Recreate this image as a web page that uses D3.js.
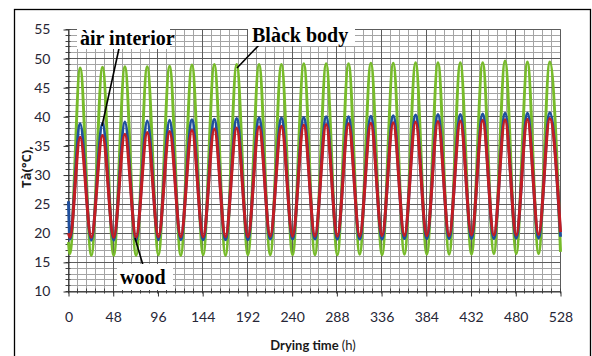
<!DOCTYPE html>
<html>
<head>
<meta charset="utf-8">
<script src="https://cdn.jsdelivr.net/npm/d3@7"></script>
<style>
  body { margin: 0; background: #fff; }
  svg { display: block; }
</style>
</head>
<body>
<svg id="chart" width="592" height="356"></svg>
<script>
// Time (h) of each turning point: start, first minimum, then alternating daily maxima / minima, end.
const timeHours = [0, 1.5,
  12.5, 24.5, 36.5, 48.5, 60.5, 72.5, 84.5, 96.5, 108.5, 120.5,
  132.5, 144.5, 156.5, 168.5, 180.5, 192.5, 204.5, 216.5, 228.5, 240.5,
  252.5, 264.5, 276.5, 288.5, 300.5, 312.5, 324.5, 336.5, 348.5, 360.5,
  372.5, 384.5, 396.5, 408.5, 420.5, 432.5, 444.5, 456.5, 468.5, 480.5,
  492.5, 504.5, 516.5, 528];

// Temperatures (°C) at those times
const blackBody = [18.5, 16.5,
  48.4, 16.2, 48.5, 16.2, 48.6, 16.2, 48.6, 16.3, 48.7, 16.2,
  48.9, 16.3, 49.0, 16.2, 49.0, 16.3, 49.0, 16.3, 49.0, 16.3,
  49.1, 16.3, 49.1, 16.3, 49.1, 16.4, 49.2, 16.3, 49.2, 16.4,
  49.3, 16.4, 49.3, 16.4, 49.3, 16.4, 49.3, 16.5, 49.6, 16.5,
  49.4, 16.5, 49.4, 16.8];

const airInterior = [25.5, 19.0,
  38.8, 18.8, 38.9, 18.8, 39.1, 18.8, 39.3, 18.9, 39.4, 18.9,
  39.5, 18.9, 39.6, 18.9, 39.7, 18.9, 39.8, 19.0, 39.8, 19.0,
  39.9, 19.0, 40.0, 19.0, 40.0, 19.0, 40.1, 19.0, 40.2, 19.1,
  40.3, 19.1, 40.4, 19.1, 40.4, 19.1, 40.5, 19.1, 40.6, 19.2,
  40.6, 19.2, 40.7, 19.4];

const wood = [20.0, 19.3,
  36.5, 19.3, 36.8, 19.3, 37.0, 19.3, 37.3, 19.4, 37.5, 19.4,
  37.7, 19.4, 37.9, 19.4, 38.1, 19.4, 38.3, 19.5, 38.4, 19.5,
  38.6, 19.5, 38.7, 19.5, 38.8, 19.5, 38.9, 19.6, 39.0, 19.6,
  39.1, 19.6, 39.2, 19.6, 39.3, 19.7, 39.4, 19.7, 39.5, 19.7,
  39.6, 19.8, 39.7, 20.2];

const xTicks = [0, 48, 96, 144, 192, 240, 288, 336, 384, 432, 480, 528];
const yTicks = [10, 15, 20, 25, 30, 35, 40, 45, 50, 55];
const xMinorStep = 9.6;
const yMinorStep = 1;

const svg = d3.select("#chart");

const x = d3.scaleLinear().domain([0, 528]).range([68.5, 560.5]);
const y = d3.scaleLinear().domain([10, 55]).range([291.5, 29.5]);

// frame
svg.append("rect")
  .attr("x", 14.5).attr("y", 9.5)
  .attr("width", 576).attr("height", 360)
  .attr("fill", "#fff").attr("stroke", "#000").attr("stroke-width", 1.3);

const crisp = v => Math.round(v - 0.5) + 0.5;

// minor grid
const grid = svg.append("g");
const xMinor = d3.range(0, 528 + 0.001, xMinorStep);
const yMinor = d3.range(10, 55 + 0.001, yMinorStep);
grid.selectAll(".vminor").data(xMinor).join("line")
  .attr("x1", d => crisp(x(d))).attr("x2", d => crisp(x(d)))
  .attr("y1", y(55)).attr("y2", y(10))
  .attr("stroke", "#a4a4a4").attr("stroke-width", 1);
grid.selectAll(".hminor").data(yMinor).join("line")
  .attr("y1", d => crisp(y(d))).attr("y2", d => crisp(y(d)))
  .attr("x1", x(0)).attr("x2", x(528))
  .attr("stroke", "#a4a4a4").attr("stroke-width", 1);
// major grid
grid.selectAll(".vmajor").data(xTicks).join("line")
  .attr("x1", d => crisp(x(d))).attr("x2", d => crisp(x(d)))
  .attr("y1", y(55)).attr("y2", y(10))
  .attr("stroke", "#5c5c5c").attr("stroke-width", 1);
grid.selectAll(".hmajor").data(yTicks).join("line")
  .attr("y1", d => crisp(y(d))).attr("y2", d => crisp(y(d)))
  .attr("x1", x(0)).attr("x2", x(528))
  .attr("stroke", "#5c5c5c").attr("stroke-width", 1);

// minor tick marks on the axes
grid.selectAll(".xmt").data(xMinor).join("line")
  .attr("x1", d => crisp(x(d))).attr("x2", d => crisp(x(d)))
  .attr("y1", y(10) - 3).attr("y2", y(10) + 2)
  .attr("stroke", "#444").attr("stroke-width", 1);
grid.selectAll(".ymt").data(yMinor).join("line")
  .attr("y1", d => crisp(y(d))).attr("y2", d => crisp(y(d)))
  .attr("x1", x(0) - 3).attr("x2", x(0) + 2)
  .attr("stroke", "#444").attr("stroke-width", 1);

// axes
const tickFont = "Lato, 'Open Sans', sans-serif";
const xAxis = svg.append("g")
  .attr("transform", `translate(0,${crisp(y(10))})`)
  .call(d3.axisBottom(x).tickValues(xTicks).tickSize(5).tickPadding(16).tickSizeOuter(0));
const yAxis = svg.append("g")
  .attr("transform", `translate(${crisp(x(0))},0)`)
  .call(d3.axisLeft(y).tickValues(yTicks).tickSize(5).tickPadding(13).tickSizeOuter(0));
[xAxis, yAxis].forEach(g => {
  g.select(".domain").attr("stroke", "#333");
  g.selectAll(".tick line").attr("stroke", "#333");
  g.selectAll("text")
    .attr("font-family", tickFont)
    .attr("font-size", 14)
    .attr("fill", "#262636");
});

// series
const series = [
  { name: "Black body", values: blackBody, color: "#77bb2a" },
  { name: "air interior", values: airInterior, color: "#1f4f9e" },
  { name: "wood", values: wood, color: "#c21d23" }
];
const line = d3.line()
  .x(d => x(d[0]))
  .y(d => y(d[1]))
  .curve(d3.curveMonotoneX);
svg.append("g").selectAll("path").data(series).join("path")
  .attr("d", s => line(timeHours.map((t, i) => [t, s.values[i]])))
  .attr("fill", "none")
  .attr("stroke", s => s.color)
  .attr("stroke-width", 3)
  .attr("stroke-linejoin", "round");

// callouts
const callouts = [
  { text: "àir interior", tx: 80, ty: 45, box: [77, 28, 93, 21], from: [120, 44], to: [102, 126] },
  { text: "Blàck body", tx: 252, ty: 42, box: [248, 27, 107, 19], from: [260, 44], to: [237, 68] },
  { text: "wood", tx: 120, ty: 284, box: [117, 264, 56, 26], from: [145, 272], to: [135, 238] }
];
const cg = svg.append("g");
callouts.forEach(c => {
  cg.append("line")
    .attr("x1", c.from[0]).attr("y1", c.from[1])
    .attr("x2", c.to[0]).attr("y2", c.to[1])
    .attr("stroke", "#000").attr("stroke-width", 1.6);
  cg.append("rect")
    .attr("x", c.box[0]).attr("y", c.box[1])
    .attr("width", c.box[2]).attr("height", c.box[3])
    .attr("fill", "#fff");
  cg.append("text")
    .attr("x", c.tx).attr("y", c.ty)
    .attr("font-family", "'Liberation Serif', 'Times New Roman', serif")
    .attr("font-size", 20)
    .attr("font-weight", "bold")
    .attr("fill", "#000")
    .text(c.text);
});

// axis titles
const xTitle = svg.append("text")
  .attr("x", 313).attr("y", 350)
  .attr("text-anchor", "middle")
  .attr("font-family", tickFont)
  .attr("font-size", 13)
  .attr("fill", "#1a1a1a");
xTitle.append("tspan").attr("font-weight", "bold").text("Drying time ");
xTitle.append("tspan").text("(h)");

svg.append("text")
  .attr("transform", "translate(31,167) rotate(-90)")
  .attr("text-anchor", "middle")
  .attr("font-family", "'Open Sans', Lato, sans-serif")
  .attr("font-size", 13)
  .attr("font-weight", "bold")
  .attr("fill", "#1a1a1a")
  .text("Tà(°C),");
</script>
</body>
</html>
